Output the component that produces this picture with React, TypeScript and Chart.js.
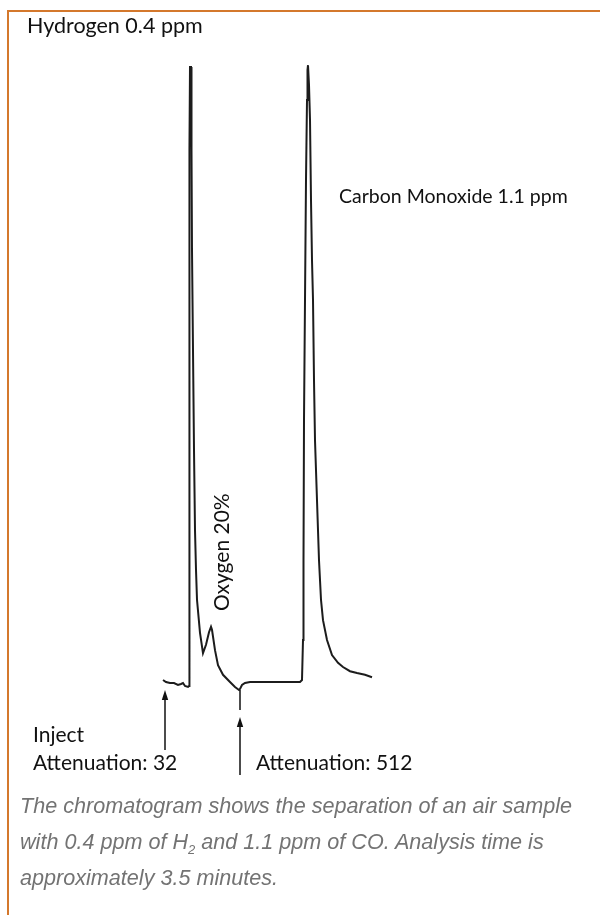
import React, { useEffect, useRef } from "react";
import { Chart, registerables } from "chart.js";

Chart.register(...registerables);

// Retention time (s) and detector signal (relative units)
const retentionTime = [
  -1, 2, 6, 10, 14, 17, 19, 21, 24, 25, 25.3, 25.6, 26, 27, 27.5, 28, 29, 30, 31, 32, 33, 36, 39,
  42, 45, 47, 48, 51, 54, 59, 66, 71, 75, 76, 78, 81, 86, 136, 138, 139, 139.5, 140, 141, 142,
  143, 143.5, 144, 145, 146, 147, 148, 149, 150, 151, 153, 155, 157, 159, 163, 168, 174, 179,
  186, 193, 201, 208,
];
const detectorSignal = [
  0.33, 0, -0.17, -0.17, -0.5, -0.33, -0.17, -0.67, -0.83, -0.67, 47, 88.7, 102.5, 102.5, 88.7,
  72, 55.3, 38.7, 25.3, 18.7, 13.7, 8.2, 4.8, 6.2, 8.3, 9.2, 8.7, 5.3, 2.8, 1.2, 0, -0.83, -1.33,
  -1.17, -0.5, -0.17, 0, 0, 0.33, 7, 20.3, 43.7, 63.7, 83.7, 97, 102, 102.8, 99.5, 93.7, 80.3,
  70.3, 63.7, 50.3, 40.3, 30.3, 20.3, 13.7, 10.3, 7, 4.5, 3.2, 2.5, 1.8, 1.5, 1.2, 0.8,
];

const peakLabels = ["Hydrogen 0.4 ppm", "Oxygen 20%", "Carbon Monoxide 1.1 ppm"];
const eventTimes = [1, 76];
const eventLabels = [["Inject", "Attenuation: 32"], ["Attenuation: 512"]];
const captionLines = [
  "The chromatogram shows the separation of an air sample",
  "with 0.4 ppm of H|2| and 1.1 ppm of CO. Analysis time is",
  "approximately 3.5 minutes.",
];

const FAMILY = 'Lato, "Noto Sans", sans-serif';

function drawArrow(ctx: CanvasRenderingContext2D, x: number, tipY: number, bottomY: number) {
  ctx.beginPath();
  ctx.moveTo(x, bottomY);
  ctx.lineTo(x, tipY + 6);
  ctx.lineWidth = 1.5;
  ctx.stroke();
  ctx.beginPath();
  ctx.moveTo(x, tipY);
  ctx.lineTo(x - 3.2, tipY + 10);
  ctx.lineTo(x + 3.2, tipY + 10);
  ctx.closePath();
  ctx.fill();
}

const annotationPlugin = {
  id: "chromAnnotations",
  afterDraw(chart: any) {
    const ctx: CanvasRenderingContext2D = chart.ctx;
    const xs = chart.scales.x;
    const ys = chart.scales.y;
    const base = ys.getPixelForValue(0);
    ctx.save();
    ctx.fillStyle = "#111";
    ctx.strokeStyle = "#111";
    ctx.textBaseline = "alphabetic";
    ctx.textAlign = "left";

    // peak labels
    ctx.font = `21.5px ${FAMILY}`;
    ctx.fillText(peakLabels[0], 27, 33);
    ctx.font = `19.5px ${FAMILY}`;
    ctx.fillText(peakLabels[2], 339, 203);
    ctx.save();
    ctx.font = `21px ${FAMILY}`;
    ctx.translate(229, 611);
    ctx.rotate(-Math.PI / 2);
    ctx.fillText(peakLabels[1], 0, 0);
    ctx.restore();

    ctx.font = `21px ${FAMILY}`;
    // inject arrow
    const x1 = xs.getPixelForValue(eventTimes[0]);
    drawArrow(ctx, x1, base + 8, base + 68);
    ctx.fillText(eventLabels[0][0], 33, 742);
    ctx.fillText(eventLabels[0][1], 33, 770);

    // attenuation change
    const x2 = xs.getPixelForValue(eventTimes[1]);
    ctx.beginPath();
    ctx.moveTo(x2, ys.getPixelForValue(-1.33));
    ctx.lineTo(x2, base + 28);
    ctx.lineWidth = 1.5;
    ctx.stroke();
    drawArrow(ctx, x2, base + 35, base + 93);
    ctx.fillText(eventLabels[1][0], 256, 770);
    ctx.restore();
  },
};

export default function App() {
  const canvasRef = useRef<HTMLCanvasElement | null>(null);

  useEffect(() => {
    if (!canvasRef.current) return;
    const chart = new Chart(canvasRef.current, {
      type: "line",
      data: {
        datasets: [
          {
            data: retentionTime.map((t, i) => ({ x: t, y: detectorSignal[i] })),
            borderColor: "#1c1c1c",
            borderWidth: 2,
            pointRadius: 0,
            tension: 0,
            fill: false,
          },
        ],
      },
      options: {
        animation: false,
        responsive: false,
        events: [],
        layout: { padding: { left: 159, right: 201, top: 40, bottom: 90 } },
        plugins: { legend: { display: false }, tooltip: { enabled: false } },
        scales: {
          x: { type: "linear", min: -5, max: 235, display: false },
          y: { type: "linear", min: -3, max: 107, display: false },
        },
      },
      plugins: [annotationPlugin],
    });
    return () => chart.destroy();
  }, []);

  return (
    <div style={{ position: "absolute", left: 0, top: 0, width: 600, height: 915, overflow: "hidden", background: "#fff" }}>
      <div
        style={{
          position: "absolute",
          left: 7,
          top: 10,
          width: 600,
          height: 920,
          borderLeft: "2px solid #d4782c",
          borderTop: "2px solid #d4782c",
        }}
      />
      <canvas ref={canvasRef} width={600} height={790} style={{ position: "absolute", left: 0, top: 0 }} />
      <div
        style={{
          position: "absolute",
          left: 20,
          top: 788,
          font: 'italic 21.6px "Liberation Sans", Arial, sans-serif',
          lineHeight: "36px",
          color: "#737373",
          whiteSpace: "nowrap",
        }}
      >
        {captionLines.map((line, i) => (
          <div key={i}>
            {line.split("|").map((part, j) =>
              j % 2 === 1 ? (
                <sub key={j} style={{ fontSize: "13px", lineHeight: 0 }}>{part}</sub>
              ) : (
                <span key={j}>{part}</span>
              )
            )}
          </div>
        ))}
      </div>
    </div>
  );
}
